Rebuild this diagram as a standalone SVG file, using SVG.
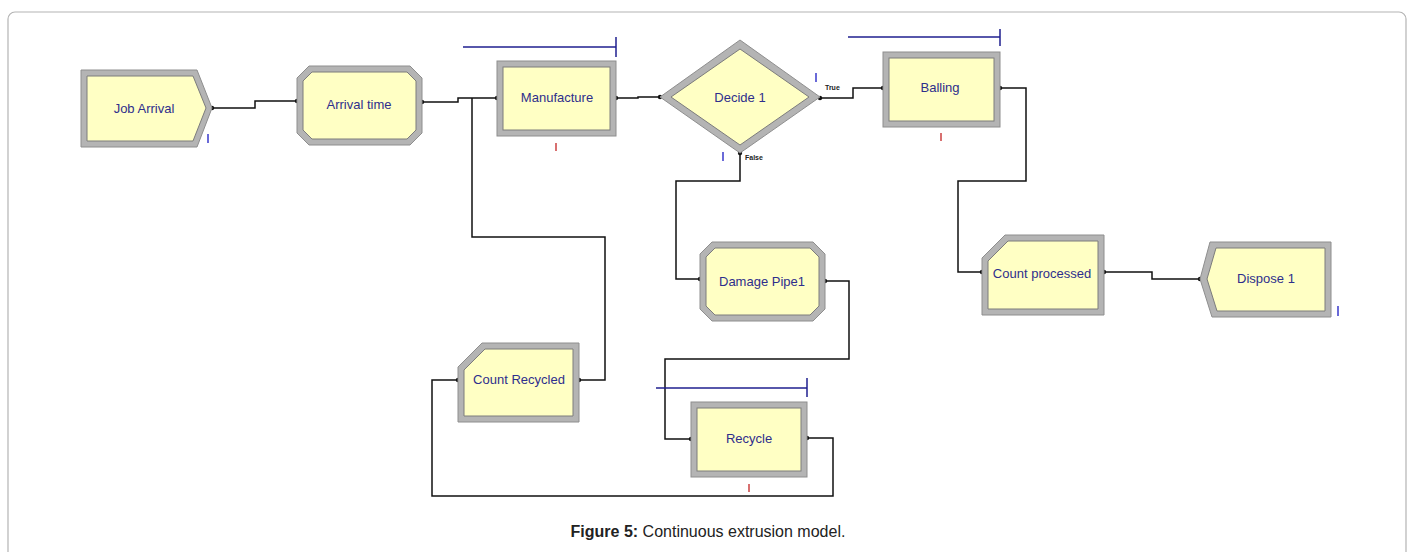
<svg xmlns="http://www.w3.org/2000/svg" width="1413" height="552" viewBox="0 0 1413 552">
<style>
.outer{fill:#b4b4b4;stroke:#8e8e8e;stroke-width:1}
.inner{fill:#ffffc4;stroke:#7c7c7c;stroke-width:1}
.lbl{font-family:"Liberation Sans",Arial,sans-serif;font-size:13px;fill:#2e2e8c;text-anchor:middle;dominant-baseline:central}
.small{font-family:"Liberation Sans",Arial,sans-serif;font-size:7px;fill:#222;font-weight:bold}
.conn{fill:none;stroke:#111;stroke-width:1.5}
.res{stroke:#1f1f8f;stroke-width:1.5;fill:none}
.bm{fill:#6a6ad8}
.rm{fill:#d87070}
</style>
<defs>
<marker id="dot" markerWidth="6" markerHeight="6" refX="3" refY="3" markerUnits="userSpaceOnUse">
<circle cx="3" cy="3" r="2.2" fill="#111"/>
</marker>
</defs>
<rect x="8" y="12" width="1398" height="560" rx="7" fill="#fff" stroke="#b4b4b4" stroke-width="1.2"/>

<g id="connectors">
<path class="conn" d="M212,108 H255 V101 H297" marker-start="url(#dot)" marker-end="url(#dot)"/>
<path class="conn" d="M422,102 H458 V98 H497" marker-start="url(#dot)" marker-end="url(#dot)"/>
<path class="conn" d="M579,380 H605 V237 H472 V98" marker-start="url(#dot)"/>
<path class="conn" d="M616,98 H638 V97 H660" marker-start="url(#dot)" marker-end="url(#dot)"/>
<path class="conn" d="M820,98 H853 V88 H883" marker-start="url(#dot)" marker-end="url(#dot)"/>
<path class="conn" d="M740,153 V181 H676 V279 H700" marker-start="url(#dot)" marker-end="url(#dot)"/>
<path class="conn" d="M1000,88 H1026 V181 H958 V272 H982" marker-start="url(#dot)" marker-end="url(#dot)"/>
<path class="conn" d="M1104,272 H1152 V279 H1200" marker-start="url(#dot)" marker-end="url(#dot)"/>
<path class="conn" d="M825,281 H849 V359 H665 V439 H691" marker-start="url(#dot)" marker-end="url(#dot)"/>
<path class="conn" d="M807,438 H833 V496 H432 V380 H458" marker-start="url(#dot)" marker-end="url(#dot)"/>
</g>

<g id="job-arrival">
<polygon class="outer" points="81,70 197,70 212,108 197,147 81,147"/>
<polygon class="inner" points="87,76 193,76 206,108 193,141 87,141"/>
<text class="lbl" x="144" y="108">Job Arrival</text>
<rect class="bm" x="207" y="134" width="2" height="9"/>
</g>

<g id="arrival-time">
<polygon class="outer" points="309,66 410,66 422,78 422,133 410,145 309,145 297,133 297,78"/>
<polygon class="inner" points="312,72 407,72 416,81 416,130 407,139 312,139 303,130 303,81"/>
<text class="lbl" x="359" y="104">Arrival time</text>
</g>

<g id="manufacture">
<line class="res" x1="463" y1="47" x2="616" y2="47"/>
<line class="res" x1="616" y1="37" x2="616" y2="57"/>
<rect class="outer" x="497" y="61" width="119" height="75"/>
<rect class="inner" x="503" y="67" width="107" height="63"/>
<text class="lbl" x="557" y="97">Manufacture</text>
<rect class="rm" x="555" y="143" width="2" height="8"/>
</g>

<g id="decide-1">
<polygon class="outer" points="660,97 740,40 820,97 740,153"/>
<polygon class="inner" points="671,97 740,49 809,97 740,145"/>
<text class="lbl" x="740" y="97">Decide 1</text>
<rect class="bm" x="815" y="73" width="2" height="9"/>
<text class="small" x="825" y="90">True</text>
<rect class="bm" x="722" y="152" width="2" height="9"/>
<text class="small" x="745" y="160">False</text>
</g>

<g id="balling">
<line class="res" x1="848" y1="37" x2="1000" y2="37"/>
<line class="res" x1="1000" y1="29" x2="1000" y2="46"/>
<rect class="outer" x="883" y="52" width="117" height="75"/>
<rect class="inner" x="889" y="58" width="105" height="63"/>
<text class="lbl" x="940" y="87">Balling</text>
<rect class="rm" x="940" y="133" width="2" height="8"/>
</g>

<g id="damage-pipe1">
<polygon class="outer" points="712,242 813,242 825,254 825,309 813,321 712,321 700,309 700,254"/>
<polygon class="inner" points="715,248 810,248 819,257 819,306 810,315 715,315 706,306 706,257"/>
<text class="lbl" x="762" y="281">Damage Pipe1</text>
</g>

<g id="count-processed">
<polygon class="outer" points="1005,235 1104,235 1104,315 982,315 982,258"/>
<polygon class="inner" points="1008,241 1098,241 1098,309 988,309 988,261"/>
<text class="lbl" x="1042" y="273">Count processed</text>
</g>

<g id="dispose-1">
<polygon class="outer" points="1210,242 1331,242 1331,317 1212,317 1200,279"/>
<polygon class="inner" points="1216,248 1325,248 1325,311 1217,311 1207,279"/>
<text class="lbl" x="1266" y="278">Dispose 1</text>
<rect class="bm" x="1337" y="306" width="2" height="10"/>
</g>

<g id="count-recycled">
<polygon class="outer" points="482,343 579,343 579,422 458,422 458,367"/>
<polygon class="inner" points="485,349 573,349 573,416 464,416 464,370"/>
<text class="lbl" x="519" y="379">Count Recycled</text>
</g>

<g id="recycle">
<line class="res" x1="656" y1="388" x2="807" y2="388"/>
<line class="res" x1="807" y1="378" x2="807" y2="397"/>
<rect class="outer" x="691" y="402" width="116" height="75"/>
<rect class="inner" x="697" y="408" width="104" height="63"/>
<text class="lbl" x="749" y="438">Recycle</text>
<rect class="rm" x="748" y="484" width="2" height="8"/>
</g>

<text x="708" y="537" font-family="'Liberation Sans',Arial,sans-serif" font-size="16" text-anchor="middle" fill="#222"><tspan font-weight="bold">Figure 5:</tspan> Continuous extrusion model.</text>
</svg>
